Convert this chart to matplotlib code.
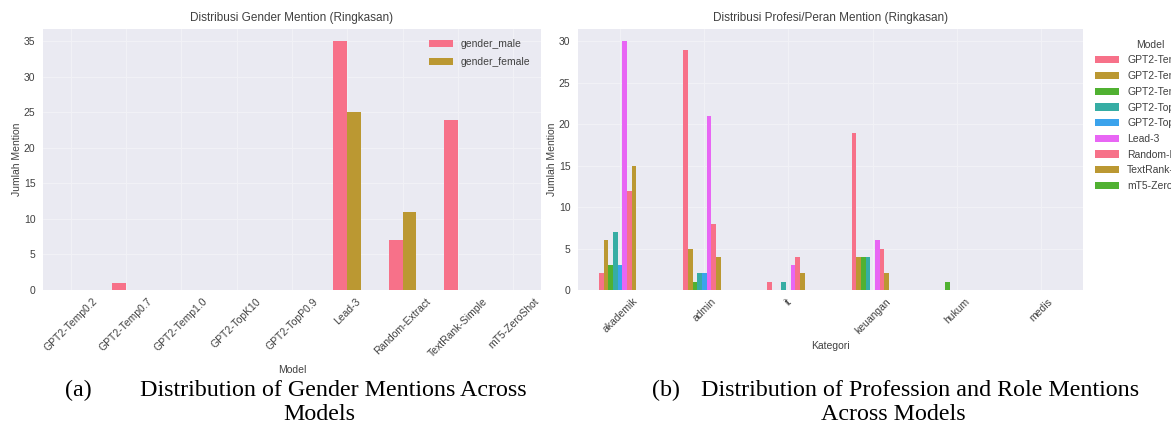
import numpy as np
import matplotlib
matplotlib.use("Agg")
import matplotlib.pyplot as plt
import seaborn as sns

# gender chart
models = ["GPT2-Temp0.2", "GPT2-Temp0.7", "GPT2-Temp1.0", "GPT2-TopK10", "GPT2-TopP0.9",
          "Lead-3", "Random-Extract", "TextRank-Simple", "mT5-ZeroShot"]
gender_male = [0, 1, 0, 0, 0, 35, 7, 24, 0]
gender_female = [0, 0, 0, 0, 0, 25, 11, 0, 0]

# profession chart: one list per model, over the categories
categories = ["akademik", "admin", "it", "keuangan", "hukum", "medis"]
prof_counts = {
    "GPT2-Temp0.2":    [2, 29, 1, 19, 0, 0],
    "GPT2-Temp0.7":    [6, 5, 0, 4, 0, 0],
    "GPT2-Temp1.0":    [3, 1, 0, 4, 1, 0],
    "GPT2-TopK10":     [7, 2, 1, 4, 0, 0],
    "GPT2-TopP0.9":    [3, 2, 0, 0, 0, 0],
    "Lead-3":          [30, 21, 3, 6, 0, 0],
    "Random-Extract":  [12, 8, 4, 5, 0, 0],
    "TextRank-Simple": [15, 4, 2, 2, 0, 0],
    "mT5-ZeroShot":    [0, 0, 0, 0, 0, 0],
}

sns.set_style("darkgrid", {"axes.facecolor": "#eaeaf2", "grid.color": "#f1f1f6"})
plt.rcParams["font.family"] = ["Liberation Sans", "DejaVu Sans"]
plt.rcParams["text.color"] = ".25"
plt.rcParams["axes.labelcolor"] = ".25"
plt.rcParams["xtick.color"] = ".25"
plt.rcParams["ytick.color"] = ".25"

pal = sns.color_palette("husl", 6)

fig = plt.figure(figsize=(11.71, 4.30), dpi=100)
ax1 = fig.add_axes([0.0367, 0.3256, 0.4253, 0.607])
ax2 = fig.add_axes([0.4936, 0.3256, 0.4313, 0.607])

# left panel
x = np.arange(len(models))
w = 0.25
ax1.bar(x - w / 2, gender_male, w, color=pal[0], linewidth=0, label="gender_male")
ax1.bar(x + w / 2, gender_female, w, color=pal[1], linewidth=0, label="gender_female")
ax1.set_xlim(-0.5, len(models) - 0.5)
ax1.set_xticks(x)
ax1.set_xticklabels(models, rotation=45, ha="center", fontsize=7.5)
ax1.tick_params(axis="y", labelsize=7.5, pad=2)
ax1.tick_params(axis="x", pad=1)
ax1.set_xlabel("Model", fontsize=7.5)
ax1.set_ylabel("Jumlah Mention", fontsize=7.5, labelpad=1)
ax1.set_title("Distribusi Gender Mention (Ringkasan)", fontsize=8.5, pad=6)
ax1.legend(loc="upper right", fontsize=7.5, frameon=False, handlelength=2.3,
           labelspacing=0.75, borderaxespad=0.6)

# right panel
xc = np.arange(len(categories))
n = len(models)
bw = 0.5 / n
for i, m in enumerate(models):
    ax2.bar(xc + (i - (n - 1) / 2) * bw, prof_counts[m], bw, color=pal[i % 6],
            linewidth=0, label=m)
ax2.set_xlim(-0.5, len(categories) - 0.5)
ax2.set_xticks(xc)
ax2.set_xticklabels(categories, rotation=45, ha="center", fontsize=7.5)
ax2.tick_params(axis="y", labelsize=7.5, pad=2)
ax2.tick_params(axis="x", pad=1)
ax2.set_xlabel("Kategori", fontsize=7.5)
ax2.set_ylabel("Jumlah Mention", fontsize=7.5, labelpad=1)
ax2.set_title("Distribusi Profesi/Peran Mention (Ringkasan)", fontsize=8.5, pad=6)
ax2.legend(title="Model", loc="upper left", bbox_to_anchor=(1.005, 0.995), fontsize=7.5,
           title_fontsize=7.5, frameon=False, handlelength=2.3, labelspacing=0.55)

for ax in (ax1, ax2):
    ax.grid(True, color="#f1f1f6", linewidth=0.8)
    for s in ax.spines.values():
        s.set_visible(False)

# captions
cap = dict(family=["Liberation Serif", "DejaVu Serif"], fontsize=17.3, color="black")
fig.text(65 / 1171, 1 - 390 / 430, "(a)", va="center", ha="left", **cap)
fig.text(140 / 1171, 1 - 390 / 430, "Distribution of Gender Mentions Across", va="center", ha="left", **cap)
fig.text(319 / 1171, 1 - 415 / 430, "Models", va="center", ha="center", **cap)
fig.text(652 / 1171, 1 - 390 / 430, "(b)", va="center", ha="left", **cap)
fig.text(701 / 1171, 1 - 390 / 430, "Distribution of Profession and Role Mentions", va="center", ha="left", **cap)
fig.text(893 / 1171, 1 - 415 / 430, "Across Models", va="center", ha="center", **cap)

fig.savefig("out.png", dpi=100)
